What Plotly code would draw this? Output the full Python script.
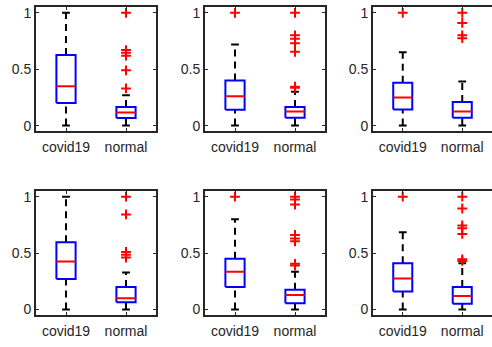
import plotly.graph_objects as go

groups = ["covid19", "normal"]

# per panel: [covid19 stats, normal stats]; stats = (lower whisker, q1, median, q3, upper whisker)
p1_stats = [(0.0, 0.20, 0.348, 0.625, 1.0), (0.0, 0.067, 0.117, 0.164, 0.27)]
p1_out = [[], [1.0, 0.67, 0.645, 0.62, 0.49, 0.33]]
p2_stats = [(0.0, 0.14, 0.26, 0.40, 0.72), (0.0, 0.07, 0.126, 0.164, 0.30)]
p2_out = [[1.0], [1.0, 0.80, 0.77, 0.73, 0.655, 0.345, 0.335]]
p3_stats = [(0.0, 0.143, 0.25, 0.38, 0.65), (0.0, 0.07, 0.126, 0.21, 0.39)]
p3_out = [[1.0], [1.0, 0.91, 0.80, 0.775]]
p4_stats = [(0.0, 0.27, 0.426, 0.595, 1.0), (0.0, 0.065, 0.10, 0.20, 0.327)]
p4_out = [[], [1.0, 0.843, 0.51, 0.485, 0.46]]
p5_stats = [(0.0, 0.20, 0.335, 0.45, 0.80), (0.0, 0.055, 0.128, 0.175, 0.335)]
p5_out = [[1.0], [1.0, 0.975, 0.93, 0.66, 0.63, 0.605, 0.405, 0.39]]
p6_stats = [(0.0, 0.16, 0.274, 0.41, 0.685), (0.0, 0.05, 0.12, 0.20, 0.41)]
p6_out = [[1.0], [1.0, 0.895, 0.745, 0.72, 0.67, 0.445, 0.43]]

panels = [(p1_stats, p1_out), (p2_stats, p2_out), (p3_stats, p3_out),
          (p4_stats, p4_out), (p5_stats, p5_out), (p6_stats, p6_out)]

W, H = 492, 347
x_px = [(36, 156), (205, 325), (373, 492)]
y_px = [(5, 131), (191, 317)]

BOX_HW = 0.16
CAP_HW = 0.065
AX = "#262626"

fig = go.Figure()
layout = dict(width=W, height=H, margin=dict(l=0, r=0, t=0, b=0),
              plot_bgcolor="white", paper_bgcolor="white", showlegend=False,
              font=dict(family="Liberation Sans, Arial, sans-serif", size=14, color=AX))

for k, (stats, outs) in enumerate(panels):
    r, c = divmod(k, 3)
    n = k + 1
    xa = "x" if n == 1 else f"x{n}"
    ya = "y" if n == 1 else f"y{n}"
    for i, (st, ol) in enumerate(zip(stats, outs)):
        xc = i + 1
        lw, q1, med, q3, uw = st
        # whiskers (dashed)
        fig.add_trace(go.Scatter(x=[xc, xc, None, xc, xc], y=[q3, uw, None, lw, q1],
                                 mode="lines", line=dict(color="black", width=2, dash="7px,5px"),
                                 xaxis=xa, yaxis=ya, hoverinfo="skip"))
        # caps
        fig.add_trace(go.Scatter(x=[xc - CAP_HW, xc + CAP_HW, None, xc - CAP_HW, xc + CAP_HW],
                                 y=[uw, uw, None, lw, lw],
                                 mode="lines", line=dict(color="black", width=2),
                                 xaxis=xa, yaxis=ya, hoverinfo="skip"))
        # box
        fig.add_trace(go.Scatter(x=[xc - BOX_HW, xc + BOX_HW, xc + BOX_HW, xc - BOX_HW, xc - BOX_HW],
                                 y=[q1, q1, q3, q3, q1],
                                 mode="lines", line=dict(color="#0000ff", width=2),
                                 fill="toself", fillcolor="white",
                                 xaxis=xa, yaxis=ya, hoverinfo="skip"))
        # median
        fig.add_trace(go.Scatter(x=[xc - BOX_HW, xc + BOX_HW], y=[med, med],
                                 mode="lines", line=dict(color="#ff0000", width=2),
                                 xaxis=xa, yaxis=ya, hoverinfo="skip"))
        if ol:
            fig.add_trace(go.Scatter(x=[xc] * len(ol), y=ol, mode="markers",
                                     marker=dict(symbol="cross-thin", size=7, color="#ff0000",
                                                 line=dict(color="#ff0000", width=2)),
                                     xaxis=xa, yaxis=ya, hoverinfo="skip"))
    x0, x1 = x_px[c]
    yt, yb = y_px[r]
    layout["xaxis" if n == 1 else f"xaxis{n}"] = dict(
        domain=[x0 / W, min(x1 / W, 1.0)], range=[0.5, 2.5], anchor=ya,
        tickvals=[1, 2], ticktext=groups, ticks="inside", ticklen=3, tickwidth=1,
        tickcolor=AX, showline=True, linecolor=AX, linewidth=2, mirror="ticks",
        ticklabelstandoff=2,
        showgrid=False, zeroline=False, tickfont=dict(size=14, color=AX), fixedrange=True)
    layout["yaxis" if n == 1 else f"yaxis{n}"] = dict(
        domain=[(H - yb) / H, (H - yt) / H], range=[-0.052, 1.052], anchor=xa,
        tickvals=[0, 0.5, 1], ticktext=["0", "0.5", "1"], ticks="inside", ticklen=3, tickwidth=1,
        tickcolor=AX, showline=True, linecolor=AX, linewidth=2,
        mirror=("ticks" if c < 2 else False),
        showgrid=False, zeroline=False, tickfont=dict(size=14, color=AX), fixedrange=True)

fig.update_layout(**layout)
fig.write_html("out.html", config={"displayModeBar": False},
               post_script="document.body.style.margin='0';document.body.style.overflow='hidden';")
